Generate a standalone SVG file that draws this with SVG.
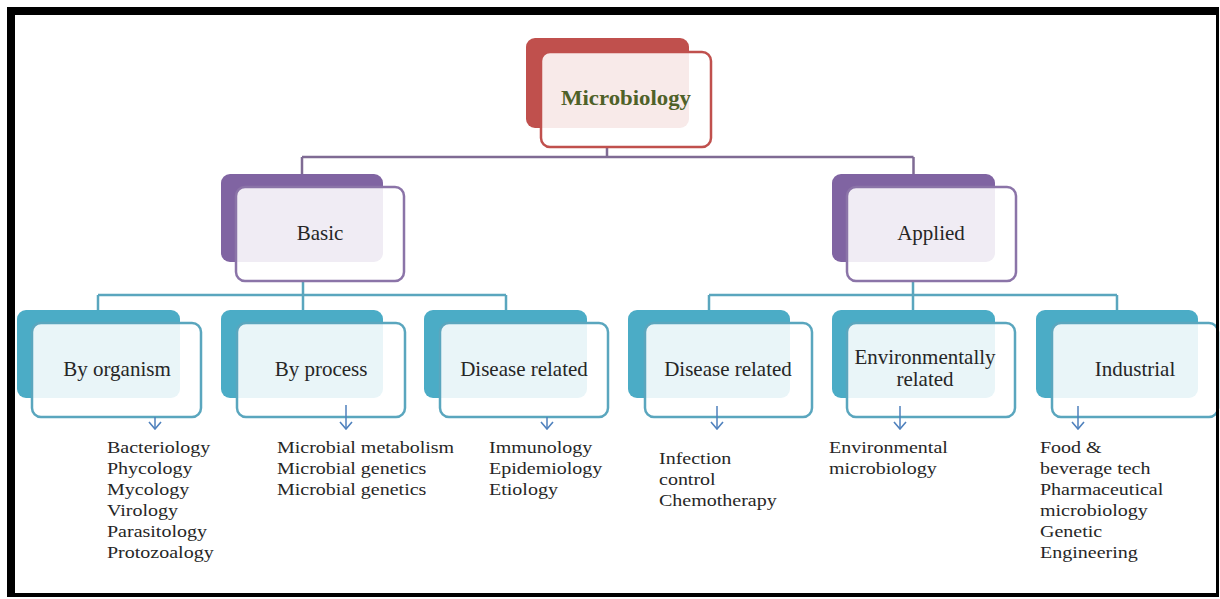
<svg xmlns="http://www.w3.org/2000/svg" width="1220" height="599" viewBox="0 0 1220 599">
<style>
.red{fill:#C0504D}
.pur{fill:#8064A2}
.teal{fill:#4BACC6}
.fr{fill:#fff;fill-opacity:0.88;stroke-width:2.5}
.frr{stroke:#C0504D}
.frp{stroke:#8B74A8}
.frt{stroke:#5AA6BE}
.lbl{font-family:"Liberation Serif","Times New Roman",serif;font-size:21px;fill:#262626;text-anchor:middle}
.lbl2{font-family:"Liberation Serif","Times New Roman",serif;font-size:20px;fill:#262626;text-anchor:middle}
.title{font-family:"Liberation Serif","Times New Roman",serif;font-size:20px;font-weight:bold;fill:#4F6128;text-anchor:middle}
.lst{font-family:"Liberation Serif","Times New Roman",serif;font-size:16px;fill:#262626}
.c1{fill:none;stroke:#7F6B94;stroke-width:2.5}
.c2{fill:none;stroke:#5AA6BE;stroke-width:2.5}
.ar{fill:none;stroke:#4F81BD;stroke-width:1.5}
</style>
<defs>
<marker id="ah" viewBox="0 0 14 9" refX="7" refY="8" markerWidth="14" markerHeight="9" markerUnits="userSpaceOnUse" orient="0">
<path d="M1,1 L7,8 L13,1" fill="none" stroke="#4F81BD" stroke-width="1.6"/>
</marker>
</defs>
<rect width="1220" height="599" fill="#fff"/>

<g id="connectors">
<path class="c1" d="M607,147 V157 M302,157 H913.5 M302,157 V175 M913.5,157 V175"/>
<path class="c2" d="M303,281 V295 M98,295 H506 M98,295 V311 M506,295 V311 M303,295 V311"/>
<path class="c2" d="M913,281 V295 M709,295 H1117 M709,295 V311 M1117,295 V311 M913,295 V311"/>
</g>

<g id="microbiology">
<rect class="red" x="526" y="38" width="163" height="90" rx="9"/>
<rect class="fr frr" x="541" y="52" width="170" height="95" rx="9"/>
<text class="title" transform="translate(626,105) scale(1.14,1)">Microbiology</text>
</g>

<g id="basic">
<rect class="pur" x="221" y="174" width="162" height="88" rx="9"/>
<rect class="fr frp" x="236" y="187" width="168" height="94" rx="9"/>
<text class="lbl" x="320" y="240">Basic</text>
</g>

<g id="applied">
<rect class="pur" x="832" y="174" width="163" height="88" rx="9"/>
<rect class="fr frp" x="847" y="187" width="169" height="94" rx="9"/>
<text class="lbl" x="931" y="240">Applied</text>
</g>

<g id="by-organism">
<rect class="teal" x="17" y="310" width="163" height="88" rx="9"/>
<rect class="fr frt" x="32" y="323" width="169" height="94" rx="9"/>
<text class="lbl" x="117" y="376">By organism</text>
</g>

<g id="by-process">
<rect class="teal" x="221" y="310" width="162" height="88" rx="9"/>
<rect class="fr frt" x="237" y="323" width="168" height="94" rx="9"/>
<text class="lbl" x="321" y="376">By process</text>
</g>

<g id="disease-basic">
<rect class="teal" x="424" y="310" width="163" height="88" rx="9"/>
<rect class="fr frt" x="440" y="323" width="168" height="94" rx="9"/>
<text class="lbl" x="524" y="376">Disease related</text>
</g>

<g id="disease-applied">
<rect class="teal" x="628" y="310" width="162" height="88" rx="9"/>
<rect class="fr frt" x="645" y="323" width="167" height="94" rx="9"/>
<text class="lbl" x="728" y="376">Disease related</text>
</g>

<g id="environmental">
<rect class="teal" x="832" y="310" width="163" height="88" rx="9"/>
<rect class="fr frt" x="847" y="323" width="168" height="94" rx="9"/>
<text class="lbl2" transform="translate(925,364) scale(1.05,1)">Environmentally</text>
<text class="lbl2" transform="translate(925,386) scale(1.05,1)">related</text>
</g>

<g id="industrial">
<rect class="teal" x="1036" y="310" width="162" height="88" rx="9"/>
<rect class="fr frt" x="1052" y="323" width="166" height="94" rx="9"/>
<text class="lbl" x="1135" y="376">Industrial</text>
</g>

<g id="arrows">
<path class="ar" d="M155,417 V429" marker-end="url(#ah)"/>
<path class="ar" d="M346,405 V429" marker-end="url(#ah)"/>
<path class="ar" d="M547,417 V429" marker-end="url(#ah)"/>
<path class="ar" d="M717,406 V429" marker-end="url(#ah)"/>
<path class="ar" d="M900,406 V429" marker-end="url(#ah)"/>
<path class="ar" d="M1078,406 V429" marker-end="url(#ah)"/>
</g>

<g id="list-organism" class="lst" transform="translate(107,0) scale(1.25,1)">
<text x="0" y="453">Bacteriology</text>
<text x="0" y="474">Phycology</text>
<text x="0" y="495">Mycology</text>
<text x="0" y="516">Virology</text>
<text x="0" y="537">Parasitology</text>
<text x="0" y="558">Protozoalogy</text>
</g>

<g id="list-process" class="lst" transform="translate(277,0) scale(1.25,1)">
<text x="0" y="453">Microbial metabolism</text>
<text x="0" y="474">Microbial genetics</text>
<text x="0" y="495">Microbial genetics</text>
</g>

<g id="list-disease-basic" class="lst" transform="translate(489,0) scale(1.25,1)">
<text x="0" y="453">Immunology</text>
<text x="0" y="474">Epidemiology</text>
<text x="0" y="495">Etiology</text>
</g>

<g id="list-disease-applied" class="lst" transform="translate(659,0) scale(1.25,1)">
<text x="0" y="464">Infection</text>
<text x="0" y="485">control</text>
<text x="0" y="506">Chemotherapy</text>
</g>

<g id="list-environmental" class="lst" transform="translate(829,0) scale(1.25,1)">
<text x="0" y="453">Environmental</text>
<text x="0" y="474">microbiology</text>
</g>

<g id="list-industrial" class="lst" transform="translate(1040,0) scale(1.25,1)">
<text x="0" y="453">Food &amp;</text>
<text x="0" y="474">beverage tech</text>
<text x="0" y="495">Pharmaceutical</text>
<text x="0" y="516">microbiology</text>
<text x="0" y="537">Genetic</text>
<text x="0" y="558">Engineering</text>
</g>

<path id="frame" fill="#000" fill-rule="evenodd" d="M7,7 H1219 V597 H7 Z M15,15 V593 H1216 V15 Z"/>
</svg>
